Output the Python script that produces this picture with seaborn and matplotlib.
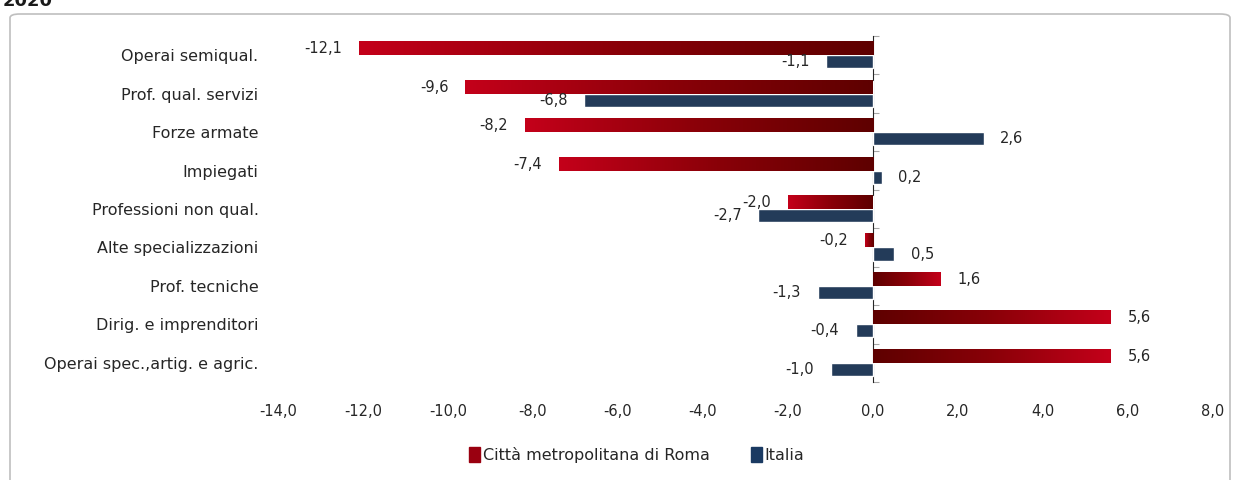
import numpy as np
import pandas as pd
import seaborn as sns
import matplotlib.pyplot as plt
from matplotlib.colors import LinearSegmentedColormap
from matplotlib.patches import FancyBboxPatch

categories = ["Operai semiqual.", "Prof. qual. servizi", "Forze armate", "Impiegati",
              "Professioni non qual.", "Alte specializzazioni", "Prof. tecniche",
              "Dirig. e imprenditori", "Operai spec.,artig. e agric."]
roma = [-12.1, -9.6, -8.2, -7.4, -2.0, -0.2, 1.6, 5.6, 5.6]
italia = [-1.1, -6.8, 2.6, 0.2, -2.7, 0.5, -1.3, -0.4, -1.0]
series = ["Città metropolitana di Roma", "Italia"]
xticks = np.arange(-14, 9, 2)

df = pd.DataFrame({
    "cat": categories * 2,
    "val": roma + italia,
    "serie": [series[0]] * len(categories) + [series[1]] * len(categories),
})

sns.set_style("white")
plt.rcParams["font.family"] = ["DejaVu Sans"]
txt = "#262626"
fs = 10.5

fig = plt.figure(figsize=(12.41, 4.8), dpi=100)
ax = fig.add_axes([278 / 1241, 0.204, 935 / 1241, 0.721])

red = "#b0000f"
blue = "#1a3a62"
sns.barplot(data=df, y="cat", x="val", hue="serie", hue_order=series,
            palette=[red, blue], orient="h", width=0.68, ax=ax, legend=False)

# gradient on the red bars, dark near zero, bright at the end
cmap = LinearSegmentedColormap.from_list("rg", ["#5e0000", "#8a0008", "#c4001a"])
for bar in ax.containers[0]:
    x0, y0, w, h = bar.get_x(), bar.get_y(), bar.get_width(), bar.get_height()
    grad = np.linspace(0, 1, 256).reshape(1, -1)
    if w < 0:
        grad = grad[:, ::-1]
    xl, xr = min(x0, x0 + w), max(x0, x0 + w)
    ax.imshow(grad, extent=[xl, xr, y0 + h, y0], aspect="auto", cmap=cmap,
              zorder=bar.get_zorder() + 0.1)

fmt = lambda v: f"{v:.1f}".replace(".", ",")
ax.bar_label(ax.containers[0], labels=[fmt(v) for v in roma], padding=12,
             fontsize=fs, color=txt)
ax.bar_label(ax.containers[1], labels=[fmt(v) for v in italia], padding=12,
             fontsize=fs, color=txt)

ax.set_xlim(-14, 8)
ax.set_ylim(len(categories) - 0.5, -0.5)
ax.set_xticks(xticks)
ax.set_xticklabels([fmt(v) for v in xticks], fontsize=fs, color=txt)
ax.tick_params(axis="x", length=0, pad=16)
ax.tick_params(axis="y", length=0, pad=14, labelsize=11.5, labelcolor=txt)
ax.set_xlabel("")
ax.set_ylabel("")
for s in ax.spines.values():
    s.set_visible(False)

# vertical axis line at zero with small category ticks
loc0 = (0 - (-14)) / 22
sec = ax.secondary_yaxis(loc0)
sec.set_yticks(np.arange(-0.5, len(categories), 1))
sec.set_yticklabels([])
sec.tick_params(length=4, color="#a6a6a6", width=0.8)
sec.spines["left"].set_color("#a6a6a6")
sec.spines["left"].set_linewidth(0.8)

handles = [plt.Rectangle((0, 0), 1, 1, color=c) for c in ["#9a0010", blue]]
fig.legend(handles, series, loc="center", bbox_to_anchor=(0.513, 0.052), ncol=2,
           frameon=False, fontsize=11.5, handlelength=0.7, handleheight=1.0,
           handletextpad=0.15, columnspacing=2.6, labelcolor=txt)

fig.patches.append(FancyBboxPatch((10 / 1241, -0.05), 1220 / 1241, 1 - 14 / 480 + 0.05,
                                  boxstyle="round,pad=0,rounding_size=0.008",
                                  transform=fig.transFigure, facecolor="none",
                                  edgecolor="#bfbfbf", linewidth=1.2))
fig.text(0.002, 1 - 6 / 480, "2020", fontsize=13, fontweight="bold", color="#1a1a1a",
         va="baseline", ha="left")

fig.savefig("out.png", dpi=100)
